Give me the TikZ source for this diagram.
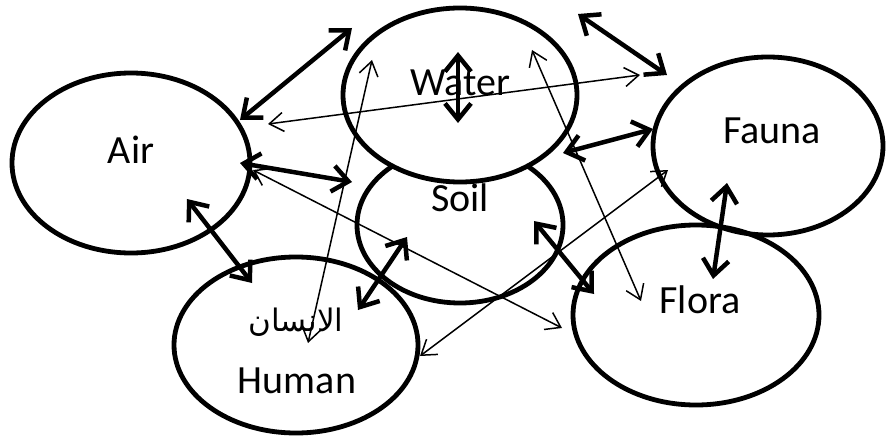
\documentclass[tikz,border=0pt]{standalone}
\usepackage{fontspec}
\setmainfont{Carlito}
\newfontfamily\arabicfont[Script=Arabic]{DejaVu Sans}
\TeXXeTstate=1
\usetikzlibrary{shapes.geometric,arrows.meta,calc}
\begin{document}
\begin{tikzpicture}[x=1pt,y=-1pt,
  sphere/.style={draw,ellipse,line width=4.8pt,inner sep=0pt},
  lbl/.style={font=\fontsize{40}{44}\selectfont,inner sep=0pt},
  bothway/.style={line width=4.5pt,{Straight Barb[length=16pt,width=26pt]}-{Straight Barb[length=16pt,width=26pt]}},
  thinway/.style={line width=1.5pt,{Straight Barb[length=14pt,width=19pt]}-{Straight Barb[length=14pt,width=19pt]}}]
  \useasboundingbox (0,0) rectangle (886,436);
  \node[sphere,minimum width=206pt,minimum height=156pt] (soil) at (460,225) {};
  \node[sphere,fill=white,minimum width=234pt,minimum height=174pt] (water) at (460,95) {};
  \node[sphere,minimum width=238pt,minimum height=180pt] (air) at (131,163) {};
  \node[sphere,minimum width=230pt,minimum height=178pt] (fauna) at (768,146) {};
  \node[sphere,minimum width=246pt,minimum height=180pt] (flora) at (696,315) {};
  \node[sphere,minimum width=244pt,minimum height=176pt] (human) at (296,345) {};
  \node[lbl] (airlbl) at ($(air)+(0,-13)$) {Air};
  \node[lbl] (waterlbl) at ($(water)+(0,-12)$) {Water};
  \node[lbl] (soillbl) at ($(soil)+(0,-27)$) {Soil};
  \node[lbl] (faunalbl) at ($(fauna)+(4,-15)$) {Fauna};
  \node[lbl] (floralbl) at ($(flora)+(4,-15)$) {Flora};
  \node[lbl] (humanar) at ($(human)+(0,-23)$) {\arabicfont\fontsize{31}{34}\selectfont\beginR الانسان\endR};
  \node[lbl] (humanlbl) at ($(human)+(1,36)$) {Human};
  \draw[bothway] ($(air)+(109,-43)$) -- ($(water)+(-108,-67)$);
  \draw[bothway] ($(air)+(109,0)$) -- ($(soil)+(-108,-43)$);
  \draw[bothway] ($(water)+(-2,-43)$) -- ($(water)+(-2,28)$);
  \draw[bothway] ($(water)+(118,-81)$) -- ($(fauna)+(-101,-71)$);
  \draw[bothway] ($(water)+(103,58)$) -- ($(fauna)+(-115,-17)$);
  \draw[bothway] ($(fauna)+(-41,37)$) -- ($(flora)+(17,-36)$);
  \draw[bothway] ($(soil)+(74,-4)$) -- ($(flora)+(-102,-21)$);
  \draw[bothway] ($(soil)+(-53,12)$) -- ($(human)+(62,-35)$);
  \draw[bothway] ($(air)+(56,36)$) -- ($(human)+(-44,-62)$);
  \draw[thinway] ($(air)+(137,-39)$) -- ($(fauna)+(-128,-71)$);
  \draw[thinway] ($(human)+(12,-2)$) -- ($(water)+(-88,-35)$);
  \draw[thinway] ($(air)+(122,7)$) -- ($(flora)+(-134,13)$);
  \draw[thinway] ($(water)+(72,-45)$) -- ($(flora)+(-55,-14)$);
  \draw[thinway] ($(fauna)+(-100,24)$) -- ($(human)+(124,11)$);
\end{tikzpicture}
\end{document}
